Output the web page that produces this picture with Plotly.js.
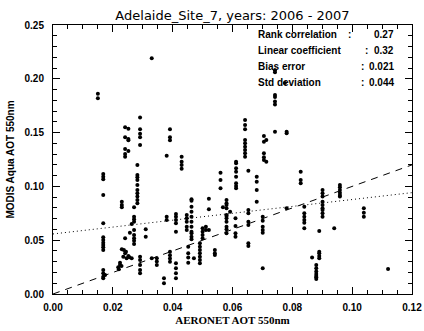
<!DOCTYPE html>
<html>
<head>
<meta charset="utf-8">
<script src="https://cdn.plot.ly/plotly-3.0.1.min.js"></script>
<style>html,body{margin:0;padding:0;background:#fff;}#chart{width:424px;height:331px;}</style>
</head>
<body>
<div id="chart"></div>
<script>
// AERONET AOT (x) for each column of collocations, and MODIS AOT values (y) in that column
const colX = [0.0150, 0.0168, 0.0174, 0.0224, 0.0218, 0.0229, 0.0220, 0.0230, 0.0241, 0.0252,
  0.0230, 0.0237, 0.0241, 0.0244, 0.0252, 0.0235, 0.0246, 0.0255, 0.0263, 0.0282,
  0.0291, 0.0271, 0.0263, 0.0257, 0.0291, 0.0310, 0.0330, 0.0347, 0.0380, 0.0391,
  0.0411, 0.0371, 0.0430, 0.0447, 0.0452, 0.0471, 0.0463, 0.0491, 0.0500, 0.0511,
  0.0521, 0.0541, 0.0560, 0.0580, 0.0568, 0.0592, 0.0610, 0.0612, 0.0642, 0.0653,
  0.0681, 0.0705, 0.0713, 0.0701, 0.0742, 0.0775, 0.0781, 0.0828, 0.0840, 0.0866,
  0.0880, 0.0890, 0.0901, 0.0940, 0.0959, 0.1039, 0.1120];
const colY = [
  [0.186, 0.182],
  [0.1115, 0.109, 0.1066, 0.092, 0.0657, 0.0527, 0.0502, 0.0477, 0.0455, 0.0434, 0.0409, 0.0223, 0.0192, 0.0161, 0.0146],
  [0.0177],
  [0.0291, 0.0270],
  [0.0248],
  [0.0260],
  [0.0230],
  [0.0858, 0.0827, 0.0806],
  [0.155, 0.1456, 0.1348, 0.130, 0.1276, 0.0517],
  [0.1536, 0.144, 0.1430, 0.133],
  [0.0415],
  [0.0409],
  [0.0378],
  [0.0393],
  [0.0353],
  [0.0347],
  [0.0332],
  [0.0341],
  [0.0332],
  [0.120, 0.1106, 0.1085, 0.106, 0.1013, 0.0967, 0.0936, 0.0905, 0.0874, 0.0843],
  [0.164, 0.153, 0.149, 0.1456, 0.1385],
  [0.0806, 0.0719, 0.0694, 0.0672, 0.0595, 0.0548, 0.0517, 0.0495, 0.0465],
  [0.0650],
  [0.0570],
  [0.0347, 0.0316, 0.0270, 0.0223, 0.0192],
  [0.0601, 0.0533],
  [0.219, 0.0332],
  [0.0332, 0.0301, 0.0270],
  [0.1286, 0.0719, 0.0688],
  [0.153, 0.1456, 0.143, 0.0393, 0.036, 0.0331, 0.030],
  [0.0743, 0.0719, 0.0688, 0.0657, 0.0579, 0.0285, 0.0239, 0.0192, 0.0146],
  [0.0146, 0.0099],
  [0.1276, 0.123, 0.120, 0.1165],
  [0.0734, 0.0704, 0.0672, 0.0625, 0.0595],
  [0.044, 0.0378, 0.0340, 0.0290],
  [0.0332],
  [0.088, 0.0867, 0.0811, 0.0765, 0.0719, 0.0672, 0.0625, 0.0579, 0.0564, 0.0533, 0.0508],
  [0.0471, 0.0440, 0.0409, 0.0378, 0.0347, 0.0316, 0.0285],
  [0.061, 0.0579, 0.0548, 0.0517],
  [0.0625, 0.0595],
  [0.0886, 0.0787, 0.0595],
  [0.0409, 0.0378, 0.0362],
  [0.1127, 0.106, 0.0982],
  [0.0874, 0.0843, 0.0827, 0.0796, 0.0734, 0.0725, 0.0704, 0.0672, 0.0625, 0.0601, 0.0564],
  [0.0806],
  [0.0765],
  [0.0704, 0.0632, 0.0564, 0.0533],
  [0.123, 0.1214, 0.1168, 0.1137, 0.109, 0.1029, 0.1004, 0.0982],
  [0.1617, 0.157, 0.153, 0.1431, 0.140, 0.1369, 0.1338, 0.1307, 0.1276],
  [0.1146, 0.0781, 0.075, 0.0672, 0.0641, 0.0471, 0.0446],
  [0.109, 0.1044, 0.0967, 0.0858],
  [0.1468, 0.1415, 0.1307, 0.127, 0.1245],
  [0.1431, 0.123],
  [0.0719, 0.0681, 0.0625, 0.0595, 0.057, 0.0239],
  [0.208, 0.206, 0.185, 0.183, 0.179, 0.176, 0.1508],
  [0.196],
  [0.1508, 0.1493, 0.0796],
  [0.1137, 0.106, 0.1029],
  [0.0811, 0.075, 0.0719, 0.0688, 0.0663, 0.061],
  [0.034],
  [0.027, 0.0239, 0.0208, 0.0186, 0.0167, 0.0155, 0.014],
  [0.0586, 0.0393, 0.0378, 0.0353, 0.0332],
  [0.0967, 0.0936, 0.0905, 0.0858, 0.0827, 0.0796, 0.0781, 0.075, 0.0719],
  [0.061],
  [0.1013, 0.0992, 0.0967, 0.0942, 0.092, 0.0905],
  [0.0796, 0.0756, 0.0719],
  [0.0232]
];
// reference lines
const oneToOneX = [0, 0.12];
const fitSlope = 0.32;
const fitIntercept = 0.0558;
const fitX = [0, 0.12];
// statistics box
const statLabels = ["Rank correlation", "Linear coefficient", "Bias error", "Std deviation"];
const statValues = ["0.27", "0.32", "0.021", "0.044"];
const titleText = "Adelaide_Site_7, years: 2006 - 2007";

const xs = [], ys = [];
colX.forEach((x, i) => colY[i].forEach(y => { xs.push(x); ys.push(y); }));

const traces = [
  {x: oneToOneX, y: oneToOneX, mode: 'lines', line: {color: '#000', width: 1, dash: '7px,6px'}, hoverinfo: 'skip'},
  {x: fitX, y: fitX.map(x => fitIntercept + fitSlope * x), mode: 'lines', line: {color: '#000', width: 1, dash: '1px,3px'}, hoverinfo: 'skip'},
  {x: xs, y: ys, mode: 'markers', marker: {color: '#000', size: 4, symbol: 'circle'}}
];

const statY = [0.9665, 0.9045, 0.845, 0.7855];
const colonX = [0.827, null, 0.861, 0.861];
const statFont = {family: 'Liberation Sans, Arial, sans-serif', size: 10, color: '#000', weight: 'bold'};
const annotations = [];
statLabels.forEach((lab, i) => {
  annotations.push({xref: 'paper', yref: 'paper', x: 0.5655, y: statY[i], xanchor: 'left', yanchor: 'middle', text: lab, showarrow: false, font: statFont});
  if (colonX[i] !== null) {
    annotations.push({xref: 'paper', yref: 'paper', x: colonX[i], y: statY[i], xanchor: 'center', yanchor: 'middle', text: ':', showarrow: false, font: statFont});
    annotations.push({xref: 'paper', yref: 'paper', x: 0.9554, y: statY[i], xanchor: 'right', yanchor: 'middle', text: statValues[i], showarrow: false, font: statFont});
  } else {
    annotations.push({xref: 'paper', yref: 'paper', x: 0.9554, y: statY[i], xanchor: 'right', yanchor: 'middle', text: ':  ' + statValues[i], showarrow: false, font: statFont});
  }
});

const tickFont = {family: 'Liberation Sans, Arial, sans-serif', size: 10, color: '#000', weight: 'bold'};
const layout = {
  width: 424, height: 331,
  margin: {l: 53, r: 12, t: 25, b: 37, pad: 0},
  paper_bgcolor: '#fff', plot_bgcolor: '#fff',
  showlegend: false,
  title: {text: titleText, x: 0.5, xref: 'paper', xanchor: 'center', y: 1 - 15/331, yref: 'container', yanchor: 'middle',
    font: {family: 'DejaVu Sans, sans-serif', size: 13, color: '#000'}},
  xaxis: {range: [0, 0.12], dtick: 0.02, tick0: 0, tickformat: '.2f', ticks: 'inside', ticklen: 7, tickcolor: '#000',
    showline: true, linecolor: '#000', linewidth: 1, mirror: 'ticks', showgrid: false, zeroline: false,
    tickfont: tickFont, ticklabelstandoff: 4,
    minor: {dtick: 0.005, ticks: 'inside', ticklen: 4, tickcolor: '#000', showgrid: false},
    title: {text: 'AERONET AOT 550nm', standoff: 4, font: {family: 'Liberation Serif, Times New Roman, serif', size: 11, color: '#000', weight: 'bold'}}},
  yaxis: {range: [0, 0.25], dtick: 0.05, tick0: 0, tickformat: '.2f', ticks: 'inside', ticklen: 7, tickcolor: '#000',
    showline: true, linecolor: '#000', linewidth: 1, mirror: 'ticks', showgrid: false, zeroline: false,
    tickfont: tickFont, ticklabelstandoff: 6,
    minor: {dtick: 0.01, ticks: 'inside', ticklen: 4, tickcolor: '#000', showgrid: false},
    title: {text: 'MODIS Aqua AOT 550nm', standoff: 8, font: {family: 'Liberation Sans, Arial, sans-serif', size: 10, color: '#000', weight: 'bold'}}},
  annotations: annotations
};

Plotly.newPlot('chart', traces, layout, {staticPlot: true, displayModeBar: false});
</script>
</body>
</html>
